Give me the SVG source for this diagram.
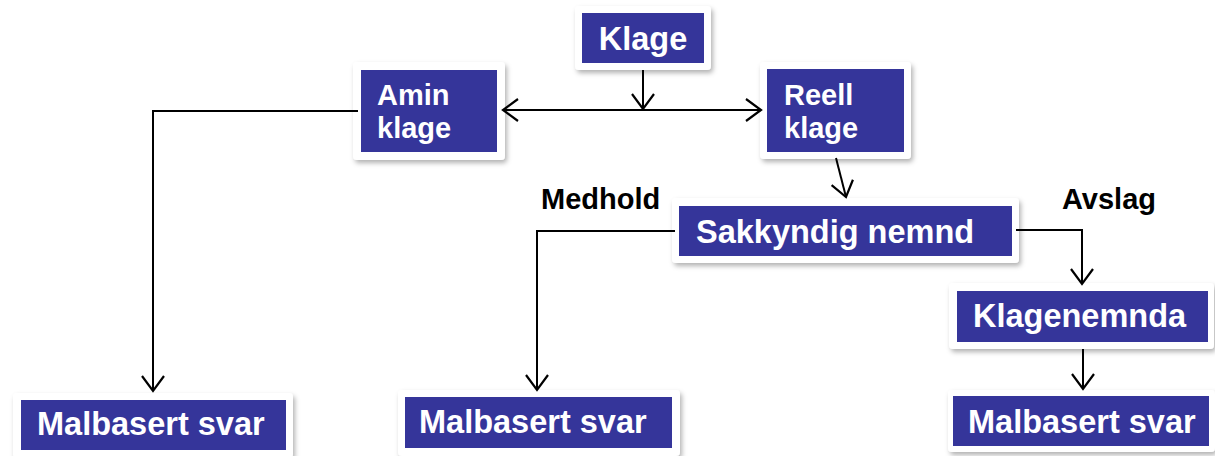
<svg xmlns="http://www.w3.org/2000/svg" width="1215" height="456" viewBox="0 0 1215 456">
<style>
.outer{fill:#ffffff;filter:url(#sh)}
.inner{fill:#35359a}
.t{font-family:"Liberation Sans",Arial,sans-serif;font-weight:bold;fill:#ffffff;font-size:32.5px}
.t2{font-family:"Liberation Sans",Arial,sans-serif;font-weight:bold;fill:#ffffff;font-size:29px}
.lbl{font-family:"Liberation Sans",Arial,sans-serif;font-weight:bold;fill:#000000;font-size:29px}
.c{fill:none;stroke:#000000;stroke-width:2}
</style>
<defs>
<filter id="sh" x="-10%" y="-20%" width="125%" height="150%">
<feDropShadow dx="2" dy="3" stdDeviation="2.5" flood-color="#000000" flood-opacity="0.3"/>
</filter>
<marker id="arr" viewBox="0 0 18 24" markerWidth="18" markerHeight="24" refX="16" refY="12" orient="auto-start-reverse" markerUnits="userSpaceOnUse">
<path d="M1,1 L16,12 L1,23" fill="none" stroke="#000000" stroke-width="2.2"/>
</marker>
</defs>
<rect width="1215" height="456" fill="#ffffff"/>
<g id="klage">
<rect class="outer" x="575" y="6" width="136" height="64" rx="4"/>
<rect class="inner" x="582" y="13" width="122" height="50"/>
<text class="t" x="643" y="50" text-anchor="middle">Klage</text>
</g>
<g id="amin-klage">
<rect class="outer" x="353" y="62" width="152" height="98" rx="4"/>
<rect class="inner" x="361" y="70" width="136" height="82"/>
<text class="t2" x="377" y="105">Amin</text>
<text class="t2" x="377" y="138">klage</text>
</g>
<g id="reell-klage">
<rect class="outer" x="760" y="62" width="151" height="97" rx="4"/>
<rect class="inner" x="767" y="69" width="137" height="83"/>
<text class="t2" x="784" y="105">Reell</text>
<text class="t2" x="784" y="138">klage</text>
</g>
<g id="sakkyndig-nemnd">
<rect class="outer" x="672" y="198" width="347" height="65" rx="4"/>
<rect class="inner" x="679" y="206" width="333" height="50"/>
<text class="t" x="696" y="243">Sakkyndig nemnd</text>
</g>
<g id="klagenemnda">
<rect class="outer" x="949" y="283" width="265" height="66" rx="4"/>
<rect class="inner" x="957" y="291" width="251" height="51"/>
<text class="t" x="973" y="327">Klagenemnda</text>
</g>
<g id="malbasert-svar-1">
<rect class="outer" x="13" y="393" width="280" height="65" rx="4"/>
<rect class="inner" x="21" y="400" width="265" height="50"/>
<text class="t" x="37" y="435">Malbasert svar</text>
</g>
<g id="malbasert-svar-2">
<rect class="outer" x="398" y="390" width="282" height="66" rx="4"/>
<rect class="inner" x="405" y="397" width="267" height="51"/>
<text class="t" x="419" y="433">Malbasert svar</text>
</g>
<g id="malbasert-svar-3">
<rect class="outer" x="948" y="390" width="267" height="62" rx="4"/>
<rect class="inner" x="953" y="396" width="256" height="50"/>
<text class="t" x="968" y="433">Malbasert svar</text>
</g>
<g id="labels">
<text class="lbl" x="541" y="209">Medhold</text>
<text class="lbl" x="1062" y="209">Avslag</text>
</g>
<g id="connectors">
<path class="c" d="M643,70 V109" marker-end="url(#arr)"/>
<path class="c" d="M503,110 H761" marker-start="url(#arr)" marker-end="url(#arr)"/>
<path class="c" d="M358,111 H153 V391" marker-end="url(#arr)"/>
<path class="c" d="M836,158 L846,197" marker-end="url(#arr)"/>
<path class="c" d="M675,231 H537 V390" marker-end="url(#arr)"/>
<path class="c" d="M1016,230 H1082 V284" marker-end="url(#arr)"/>
<path class="c" d="M1083,349 V389" marker-end="url(#arr)"/>
</g>
</svg>
